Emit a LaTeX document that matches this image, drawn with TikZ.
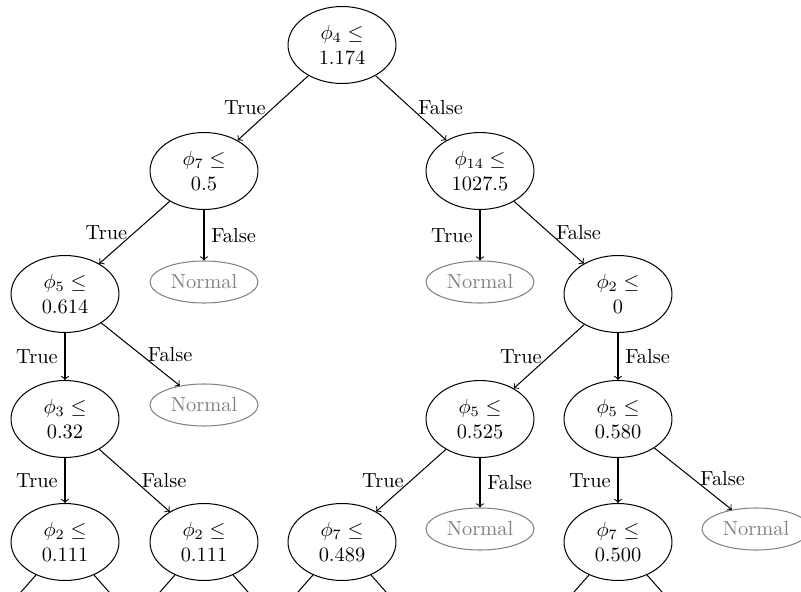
\documentclass[tikz,border=0pt]{standalone}
\usetikzlibrary{shapes.geometric}
\begin{document}
\begin{tikzpicture}[x=0.49pt,y=-0.49pt,line width=0.5pt,
  split/.style={ellipse,draw,inner sep=0pt,minimum width=52.9pt,minimum height=37.7pt,align=center},
  leaf/.style={ellipse,draw=gray,text=gray,inner sep=0pt,minimum width=52.9pt,minimum height=20.6pt},
  edge/.style={->},
  stub/.style={-},
  tl/.style={midway,left},
  fl/.style={midway,right}]
\useasboundingbox (0,0) rectangle (801,592);
\clip (0,0) rectangle (801,592);
% nodes
\node[split] (root) at (342,45) {$\phi_4\leq$\\1.174};
\node[split] (n7) at (204,171) {$\phi_7\leq$\\0.5};
\node[split] (n14) at (480,171) {$\phi_{14}\leq$\\1027.5};
\node[leaf] (nA) at (204,282) {Normal};
\node[leaf] (nB) at (480,282) {Normal};
\node[split] (n5) at (65,294) {$\phi_5\leq$\\0.614};
\node[split] (n2) at (618,294) {$\phi_2\leq$\\0};
\node[leaf] (nC) at (204,405) {Normal};
\node[split] (n3) at (65,419) {$\phi_3\leq$\\0.32};
\node[split] (n5b) at (480,419) {$\phi_5\leq$\\0.525};
\node[split] (n5c) at (618,419) {$\phi_5\leq$\\0.580};
\node[split] (b1) at (65,542) {$\phi_2\leq$\\0.111};
\node[split] (b2) at (204,542) {$\phi_2\leq$\\0.111};
\node[split] (b3) at (342,542) {$\phi_7\leq$\\0.489};
\node[leaf] (nD) at (480,529) {Normal};
\node[split] (b4) at (618,542) {$\phi_7\leq$\\0.500};
\node[leaf] (nE) at (756,529) {Normal};
% off-picture children
\foreach \n/\x in {b1/65,b2/204,b3/342,b4/618}{
  \coordinate (\n l) at (\x-132,692);
  \coordinate (\n r) at (\x+132,692);
}
% edges
\draw[edge] (root) -- (n7) node[tl] {True};
\draw[edge] (root) -- (n14) node[fl] {False};
\draw[edge] (n7) -- (n5) node[tl] {True};
\draw[edge] (n7) -- (nA) node[fl] {False};
\draw[edge] (n14) -- (nB) node[tl] {True};
\draw[edge] (n14) -- (n2) node[fl] {False};
\draw[edge] (n5) -- (n3) node[tl] {True};
\draw[edge] (n5) -- (nC) node[fl] {False};
\draw[edge] (n2) -- (n5b) node[tl] {True};
\draw[edge] (n2) -- (n5c) node[fl] {False};
\draw[edge] (n3) -- (b1) node[tl] {True};
\draw[edge] (n3) -- (b2) node[fl] {False};
\draw[edge] (n5b) -- (b3) node[tl] {True};
\draw[edge] (n5b) -- (nD) node[fl] {False};
\draw[edge] (n5c) -- (b4) node[tl] {True};
\draw[edge] (n5c) -- (nE) node[fl] {False};
\foreach \n in {b1,b2,b3,b4}{
  \draw[stub] (\n) -- (\n l);
  \draw[stub] (\n) -- (\n r);
}
\end{tikzpicture}
\end{document}
